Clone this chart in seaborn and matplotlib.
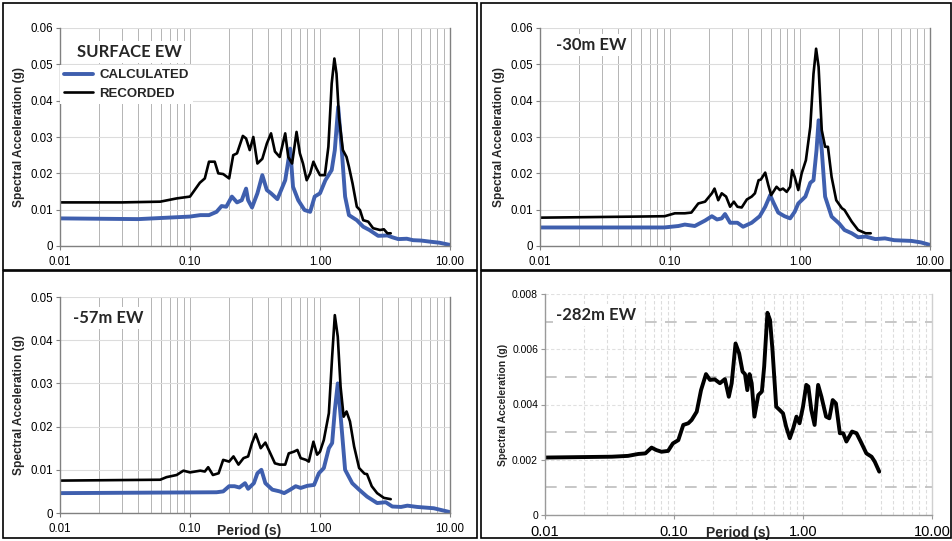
import numpy as np
import pandas as pd
import seaborn as sns
import matplotlib
matplotlib.use("Agg")
import matplotlib.pyplot as plt
from matplotlib.patches import Rectangle
from matplotlib.ticker import FixedLocator, LogLocator, NullFormatter

# ---------------- data ----------------
# Panel 1: SURFACE EW
p1_rec_T = [0.01, 0.03, 0.059, 0.079, 0.1, 0.119, 0.13, 0.14, 0.155, 0.165, 0.18, 0.2, 0.215, 0.23, 0.255,
            0.27, 0.288, 0.307, 0.33, 0.36, 0.39, 0.42, 0.45, 0.49, 0.54, 0.57, 0.61, 0.66, 0.7, 0.74,
            0.79, 0.84, 0.89, 0.94, 1.0, 1.09, 1.16, 1.23, 1.29, 1.34, 1.4, 1.5, 1.6, 1.67, 1.78, 1.92,
            2.03, 2.15, 2.35, 2.56, 2.9, 3.1, 3.3, 3.5]
p1_rec_SA = [0.0120, 0.0120, 0.0122, 0.0131, 0.0136, 0.0174, 0.0186, 0.0232, 0.0232, 0.0200, 0.0198, 0.0186,
             0.0250, 0.0255, 0.0303, 0.0296, 0.0264, 0.0300, 0.0227, 0.0240, 0.0282, 0.0310, 0.0260, 0.0245,
             0.0310, 0.0245, 0.0227, 0.0314, 0.0255, 0.0227, 0.0181, 0.0200, 0.0232, 0.0213, 0.0195, 0.0195,
             0.0273, 0.0447, 0.0516, 0.0474, 0.0355, 0.0264, 0.0245, 0.0218, 0.0172, 0.0108, 0.0099, 0.0071,
             0.0067, 0.0049, 0.0044, 0.0046, 0.0035, 0.0035]
p1_cal_T = [0.01, 0.04, 0.1, 0.12, 0.14, 0.16, 0.175, 0.19, 0.21, 0.23, 0.25, 0.27, 0.28, 0.3, 0.33, 0.36,
            0.39, 0.42, 0.47, 0.54, 0.59, 0.62, 0.68, 0.76, 0.84, 0.91, 1.0, 1.1, 1.23, 1.3, 1.38, 1.47,
            1.56, 1.67, 1.92, 2.15, 2.4, 2.8, 3.3, 3.6, 4.0, 4.65, 5.2, 6.0, 7.0, 8.3, 10.0]
p1_cal_SA = [0.0076, 0.0074, 0.0081, 0.0085, 0.0085, 0.0094, 0.0110, 0.0108, 0.0136, 0.0120, 0.0126, 0.0158,
             0.0126, 0.0106, 0.0145, 0.0195, 0.0154, 0.0145, 0.0129, 0.0181, 0.0268, 0.0163, 0.0126, 0.0099,
             0.0094, 0.0136, 0.0145, 0.0181, 0.0209, 0.0264, 0.0383, 0.0264, 0.0136, 0.0085, 0.0071, 0.0053,
             0.0044, 0.0028, 0.0029, 0.0024, 0.0019, 0.0020, 0.0016, 0.0015, 0.0012, 0.0009, 0.0003]

# Panel 2: -30m EW
p2_rec_T = [0.01, 0.057, 0.091, 0.109, 0.13, 0.146, 0.165, 0.186, 0.21, 0.22, 0.235, 0.25, 0.27, 0.29, 0.31,
            0.33, 0.356, 0.39, 0.425, 0.45, 0.48, 0.5, 0.54, 0.57, 0.6, 0.66, 0.7, 0.74, 0.79, 0.84, 0.87,
            0.91, 0.97, 1.03, 1.11, 1.2, 1.27, 1.33, 1.39, 1.47, 1.56, 1.64, 1.75, 1.9, 2.1, 2.2, 2.5, 2.8,
            3.2, 3.5]
p2_rec_SA = [0.0078, 0.0081, 0.0082, 0.0090, 0.0090, 0.0092, 0.0117, 0.0122, 0.0145, 0.0158, 0.0126, 0.0145,
             0.0136, 0.0108, 0.0122, 0.0108, 0.0106, 0.0128, 0.0136, 0.0145, 0.0181, 0.0183, 0.0202, 0.0168,
             0.0140, 0.0163, 0.0154, 0.0158, 0.0149, 0.0163, 0.0209, 0.0190, 0.0154, 0.0200, 0.0236, 0.0328,
             0.0474, 0.0543, 0.0493, 0.0319, 0.0273, 0.0273, 0.0190, 0.0126, 0.0104, 0.0099, 0.0067, 0.0044,
             0.0035, 0.0035]
p2_cal_T = [0.01, 0.09, 0.116, 0.13, 0.155, 0.186, 0.21, 0.23, 0.25, 0.265, 0.29, 0.33, 0.365, 0.425, 0.49,
            0.54, 0.59, 0.62, 0.68, 0.76, 0.84, 0.91, 0.97, 1.1, 1.2, 1.27, 1.34, 1.39, 1.47, 1.56, 1.75,
            2.0, 2.2, 2.5, 2.8, 3.2, 3.8, 4.5, 5.3, 7.2, 8.5, 10.0]
p2_cal_SA = [0.0051, 0.0051, 0.0055, 0.0059, 0.0055, 0.0070, 0.0082, 0.0073, 0.0076, 0.0088, 0.0064, 0.0064,
             0.0053, 0.0064, 0.0082, 0.0108, 0.0140, 0.0122, 0.0092, 0.0082, 0.0076, 0.0094, 0.0117, 0.0136,
             0.0174, 0.0181, 0.0264, 0.0346, 0.0264, 0.0136, 0.0081, 0.0062, 0.0044, 0.0035, 0.0024, 0.0026,
             0.0019, 0.0021, 0.0016, 0.0014, 0.0010, 0.0003]

# Panel 3: -57m EW
p3_rec_T = [0.01, 0.059, 0.066, 0.079, 0.089, 0.1, 0.12, 0.13, 0.138, 0.15, 0.166, 0.18, 0.2, 0.216, 0.236,
            0.258, 0.28, 0.3, 0.32, 0.35, 0.38, 0.415, 0.45, 0.49, 0.54, 0.575, 0.63, 0.67, 0.71, 0.78,
            0.82, 0.89, 0.95, 1.0, 1.07, 1.17, 1.24, 1.3, 1.37, 1.44, 1.52, 1.6, 1.7, 1.83, 2.0, 2.2, 2.3,
            2.5, 2.75, 3.1, 3.5]
p3_rec_SA = [0.0075, 0.0077, 0.0083, 0.0088, 0.0098, 0.0094, 0.0098, 0.0096, 0.0106, 0.0088, 0.0092, 0.0123,
             0.0119, 0.0131, 0.0112, 0.0127, 0.0131, 0.0162, 0.0183, 0.0150, 0.0163, 0.0138, 0.0115, 0.0112,
             0.0112, 0.0138, 0.0142, 0.0146, 0.0127, 0.0123, 0.0119, 0.0165, 0.0135, 0.0142, 0.0169, 0.0231,
             0.0362, 0.0458, 0.0408, 0.0292, 0.0223, 0.0235, 0.0212, 0.0154, 0.0104, 0.0091, 0.0090, 0.0062,
             0.0046, 0.0035, 0.0032]
p3_cal_T = [0.01, 0.16, 0.18, 0.2, 0.22, 0.24, 0.265, 0.28, 0.31, 0.33, 0.354, 0.38, 0.43, 0.49, 0.53, 0.59,
            0.65, 0.71, 0.8, 0.9, 0.98, 1.07, 1.17, 1.24, 1.3, 1.37, 1.45, 1.56, 1.77, 2.0, 2.3, 2.75, 3.2,
            3.6, 4.2, 4.7, 5.6, 7.5, 10.0]
p3_cal_SA = [0.0046, 0.0048, 0.0050, 0.0062, 0.0062, 0.0059, 0.0069, 0.0056, 0.0069, 0.0092, 0.0100, 0.0069,
             0.0054, 0.0050, 0.0046, 0.0054, 0.0062, 0.0058, 0.0063, 0.0065, 0.0092, 0.0104, 0.0150, 0.0162,
             0.0238, 0.0300, 0.0215, 0.0100, 0.0069, 0.0054, 0.0038, 0.0023, 0.0025, 0.0015, 0.0014, 0.0017,
             0.0014, 0.0011, 0.0002]

# Panel 4: -282m EW (recorded only)
p4_rec_T = [0.01, 0.033, 0.044, 0.053, 0.06, 0.067, 0.073, 0.08, 0.09, 0.098, 0.108, 0.118, 0.129, 0.137,
            0.15, 0.162, 0.177, 0.19, 0.207, 0.227, 0.248, 0.266, 0.28, 0.3, 0.32, 0.34, 0.355, 0.37, 0.385,
            0.4, 0.42, 0.45, 0.48, 0.5, 0.53, 0.555, 0.58, 0.62, 0.66, 0.7, 0.74, 0.79, 0.84, 0.89, 0.94,
            1.0, 1.06, 1.1, 1.16, 1.23, 1.31, 1.39, 1.51, 1.6, 1.7, 1.8, 1.93, 2.05, 2.17, 2.4, 2.6, 2.8,
            3.1, 3.4, 3.6, 3.9]
p4_rec_SA = [0.00208, 0.00211, 0.00214, 0.00221, 0.00223, 0.00244, 0.00235, 0.00229, 0.00232, 0.00259,
             0.00271, 0.00326, 0.00332, 0.00344, 0.00374, 0.00452, 0.00510, 0.00489, 0.00491, 0.00477,
             0.00492, 0.00428, 0.00477, 0.00621, 0.00585, 0.00519, 0.00510, 0.00452, 0.00510, 0.00477,
             0.00356, 0.00434, 0.00447, 0.00537, 0.00732, 0.00706, 0.00597, 0.00392, 0.00380, 0.00368,
             0.00320, 0.00278, 0.00314, 0.00356, 0.00332, 0.00392, 0.00471, 0.00465, 0.00380, 0.00326,
             0.00471, 0.00428, 0.00356, 0.00350, 0.00416, 0.00404, 0.00296, 0.00296, 0.00266, 0.00302,
             0.00296, 0.00266, 0.00223, 0.00211, 0.00193, 0.00157]

panel_titles = ["SURFACE EW", "-30m EW", "-57m EW", "-282m EW"]
legend_labels = ["CALCULATED", "RECORDED"]
x_tick_vals = [0.01, 0.1, 1.0, 10.0]
x_tick_labels = ["0.01", "0.10", "1.00", "10.00"]
y_ticks_a = [0, 0.01, 0.02, 0.03, 0.04, 0.05, 0.06]
y_ticks_a_lab = ["0", "0.01", "0.02", "0.03", "0.04", "0.05", "0.06"]
y_ticks_c = [0, 0.01, 0.02, 0.03, 0.04, 0.05]
y_ticks_c_lab = ["0", "0.01", "0.02", "0.03", "0.04", "0.05"]
y_ticks_d = [0, 0.002, 0.004, 0.006, 0.008]
y_ticks_d_lab = ["0", "0.002", "0.004", "0.006", "0.008"]
y_minor_d = [0.001, 0.003, 0.005, 0.007]

# ---------------- style ----------------
sns.set_theme(style="white")
plt.rcParams['font.family'] = ['Liberation Sans', 'DejaVu Sans']

BLUE = "#3f5fae"
BLACK = "#000000"
W, H = 953, 541
fig = plt.figure(figsize=(W / 100, H / 100), dpi=100)


def frac(x0, y0, x1, y1):
    return [x0 / W, 1 - y1 / H, (x1 - x0) / W, (y1 - y0) / H]


ax1 = fig.add_axes(frac(60, 28, 450, 246))
ax2 = fig.add_axes(frac(540, 28, 930, 246))
ax3 = fig.add_axes(frac(60, 297, 450, 513))
ax4 = fig.add_axes(frac(545, 294, 932, 515))


def draw(ax, T, SA, color, lw, label=None):
    df = pd.DataFrame({"T": T, "SA": SA})
    sns.lineplot(data=df, x="T", y="SA", ax=ax, color=color, lw=lw, estimator=None,
                 sort=True, label=label, legend=False)


def style_abc(ax, yt, ytl, ymax):
    ax.set_xscale("log")
    ax.set_xlim(0.01, 10)
    ax.set_ylim(0, ymax)
    ax.set_axisbelow(True)
    ax.xaxis.set_major_locator(FixedLocator(x_tick_vals))
    ax.set_xticklabels(x_tick_labels)
    ax.xaxis.set_minor_locator(LogLocator(base=10, subs=np.arange(2, 10)))
    ax.xaxis.set_minor_formatter(NullFormatter())
    ax.set_yticks(yt)
    ax.set_yticklabels(ytl)
    ax.xaxis.grid(True, which="both", color="#b4b4b4", lw=0.7)
    ax.yaxis.grid(True, which="major", color="#dcdcdc", lw=0.8)
    for s in ["left", "bottom", "right"]:
        ax.spines[s].set_visible(True)
        ax.spines[s].set_color("#808080")
        ax.spines[s].set_linewidth(1.0)
    ax.spines["top"].set_visible(False)
    ax.tick_params(axis="both", which="major", labelsize=8.3, colors="#808080",
                   labelcolor="black", length=3, width=0.8, direction="out", pad=2)
    ax.tick_params(axis="x", which="minor", length=0)
    ax.tick_params(axis="x", which="major", pad=4)
    ax.tick_params(left=True, bottom=True)
    ax.set_ylabel("Spectral Acceleration (g)", fontsize=8.6, fontweight="bold", labelpad=4)
    ax.set_xlabel("")


# Panel 1
draw(ax1, p1_cal_T, p1_cal_SA, BLUE, 2.8, legend_labels[0])
draw(ax1, p1_rec_T, p1_rec_SA, BLACK, 1.9, legend_labels[1])
style_abc(ax1, y_ticks_a, y_ticks_a_lab, 0.06)
# Panel 2
draw(ax2, p2_cal_T, p2_cal_SA, BLUE, 2.8)
draw(ax2, p2_rec_T, p2_rec_SA, BLACK, 1.9)
style_abc(ax2, y_ticks_a, y_ticks_a_lab, 0.06)
# Panel 3
draw(ax3, p3_cal_T, p3_cal_SA, BLUE, 2.8)
draw(ax3, p3_rec_T, p3_rec_SA, BLACK, 1.9)
style_abc(ax3, y_ticks_c, y_ticks_c_lab, 0.05)
ax3.set_xlabel("Period (s)", fontsize=10, fontweight="bold")
ax3.xaxis.label.set_va("center")
ax3.xaxis.set_label_coords(0.485, -0.083)

# Panel 4
draw(ax4, p4_rec_T, p4_rec_SA, BLACK, 2.8)
ax4.set_xscale("log")
ax4.set_xlim(0.01, 10)
ax4.set_ylim(0, 0.008)
ax4.set_axisbelow(True)
ax4.xaxis.set_major_locator(FixedLocator(x_tick_vals))
ax4.set_xticklabels(x_tick_labels)
ax4.xaxis.set_minor_locator(LogLocator(base=10, subs=np.arange(2, 10)))
ax4.xaxis.set_minor_formatter(NullFormatter())
ax4.set_yticks(y_ticks_d)
ax4.set_yticklabels(y_ticks_d_lab)
ax4.yaxis.set_minor_locator(FixedLocator(y_minor_d))
ax4.xaxis.grid(True, which="both", color="#dcdcdc", lw=0.8, ls=(0, (3, 2)))
ax4.yaxis.grid(True, which="major", color="#e0e0e0", lw=0.8, ls=(0, (3, 2)))
ax4.yaxis.grid(True, which="minor", color="#bdbdbd", lw=1.2, ls=(0, (7, 5)))
for s in ["left", "bottom", "right"]:
    ax4.spines[s].set_visible(True)
    ax4.spines[s].set_linewidth(1.0)
ax4.spines["left"].set_color("#9a9a9a")
ax4.spines["bottom"].set_color("#9a9a9a")
ax4.spines["right"].set_color("#d0d0d0")
ax4.spines["top"].set_visible(False)
ax4.tick_params(axis="y", which="major", labelsize=7.5, colors="#9a9a9a", labelcolor="black",
                length=3, width=0.8, left=True, pad=2)
ax4.tick_params(axis="y", which="minor", length=0)
ax4.tick_params(axis="x", which="major", labelsize=10.5, colors="#9a9a9a", labelcolor="black",
                length=3, width=0.8, bottom=True, pad=4)
ax4.tick_params(axis="x", which="minor", length=0)
ax4.set_ylabel("Spectral Acceleration (g)", fontsize=7.5, fontweight="bold", labelpad=3)
ax4.set_xlabel("Period (s)", fontsize=10, fontweight="bold")
ax4.xaxis.label.set_va("center")
ax4.xaxis.set_label_coords(0.5, -0.081)

# Titles
title_pos = [(ax1, 0.044, 0.89), (ax2, 0.041, 0.922), (ax3, 0.033, 0.903), (ax4, 0.028, 0.905)]
for (ax, tx, ty), t in zip(title_pos, panel_titles):
    ax.text(tx, ty, t, transform=ax.transAxes, fontsize=12, fontweight="bold", family=["Lato", "DejaVu Sans"],
            ha="left", va="center", zorder=5,
            bbox=dict(facecolor="white", edgecolor="none", pad=2))

# Legend for panel 1
leg = ax1.legend(loc="upper left", bbox_to_anchor=(0.0, 0.83), frameon=True, fancybox=False,
                 facecolor="white", edgecolor="none", framealpha=1.0,
                 prop=dict(family="Liberation Sans", weight="bold", size=9.5),
                 handlelength=2.2, handletextpad=0.5, labelspacing=0.5, borderpad=0.3,
                 borderaxespad=0.0)
leg.set_zorder(6)

# Panel borders
for (x0, y0, x1, y1) in [(3, 3, 477, 270), (481, 3, 951, 270), (3, 271, 477, 538), (481, 271, 951, 538)]:
    fig.add_artist(Rectangle((x0 / W, 1 - y1 / H), (x1 - x0) / W, (y1 - y0) / H,
                             transform=fig.transFigure, fill=False, ec="black", lw=1.2))

fig.savefig("out.png", dpi=100)
